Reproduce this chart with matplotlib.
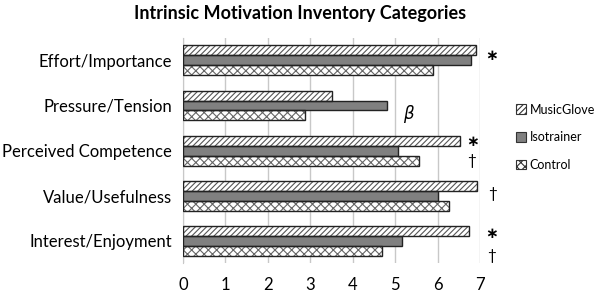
import matplotlib
matplotlib.use('Agg')
import matplotlib.pyplot as plt
from matplotlib.patches import Patch
import numpy as np

plt.rcParams['font.family'] = ['Lato', 'DejaVu Sans']
plt.rcParams['hatch.linewidth'] = 0.8

categories = ['Effort/Importance', 'Pressure/Tension', 'Perceived Competence',
              'Value/Usefulness', 'Interest/Enjoyment']
music_glove = [6.90, 3.51, 6.54, 6.92, 6.73]
isotrainer = [6.79, 4.80, 5.06, 6.00, 5.17]
control = [5.90, 2.88, 5.56, 6.26, 4.69]
series_names = ['MusicGlove', 'Isotrainer', 'Control']

# significance markers: (label, x, y)
markers = [('*', 7.28, -0.09), ('*', 6.83, 1.82), ('\u2020', 6.81, 2.18),
           ('\u2020', 7.30, 2.91), ('*', 7.28, 3.87), ('\u2020', 7.28, 4.29)]

fig = plt.figure(figsize=(6, 2.92), dpi=100)
ax = fig.add_axes([0.305, 0.099, 0.495, 0.771])

y = np.arange(len(categories))
h = 0.222
styles = [
    dict(color='white', hatch='//////', hatch_col='#555555'),
    dict(color='#808080', hatch=None, hatch_col='#808080'),
    dict(color='white', hatch='xxxx', hatch_col='#666666'),
]
for i, vals in enumerate([music_glove, isotrainer, control]):
    pos = y + (i - 1) * h
    st = styles[i]
    ax.barh(pos, vals, height=h, color=st['color'], hatch=st['hatch'],
            edgecolor=st['hatch_col'], linewidth=0, zorder=2)
    ax.barh(pos, vals, height=h, fill=False, edgecolor='#222222',
            linewidth=1.0, zorder=3)

ax.set_xlim(0, 7)
ax.set_ylim(len(categories) - 0.5, -0.5)
ax.set_yticks(y)
ax.set_yticklabels(categories, fontsize=12)
ax.set_xticks(range(8))
ax.tick_params(axis='x', labelsize=12, length=0, pad=10)
ax.tick_params(axis='y', length=0, pad=8)
ax.grid(axis='x', color='#c8c8c8', linewidth=1, zorder=0)
ax.set_axisbelow(True)
for s in ['top', 'right', 'bottom']:
    ax.spines[s].set_visible(False)
ax.spines['left'].set_color('#c8c8c8')

for lab, mx, my in markers:
    if lab == '*':
        ax.text(mx, my - 0.03, '\u2217', fontsize=11, ha='center', va='center',
                clip_on=False, family=['DejaVu Sans'], fontweight='bold')
    else:
        ax.text(mx, my + 0.05, lab, fontsize=11, ha='center', va='center', clip_on=False)
ax.text(5.32, 1.18, '\u03b2', fontsize=12, style='italic', ha='center', va='center',
        family=['DejaVu Sans'])

fig.text(0.5, 0.955, 'Intrinsic Motivation Inventory Categories', ha='center',
         va='center', fontsize=13, fontweight='bold')

handles = []
for i, name in enumerate(series_names):
    st = styles[i]
    handles.append(Patch(facecolor=st['color'], hatch=st['hatch'],
                         edgecolor='#333333', linewidth=0.8, label=name))
leg = fig.legend(handles=handles, loc='center left', bbox_to_anchor=(0.86, 0.53),
                 frameon=False, fontsize=9, handlelength=0.8, handleheight=0.8,
                 handletextpad=0.3, labelspacing=1.25, borderpad=0, borderaxespad=0)

fig.savefig('out.png', dpi=100)
